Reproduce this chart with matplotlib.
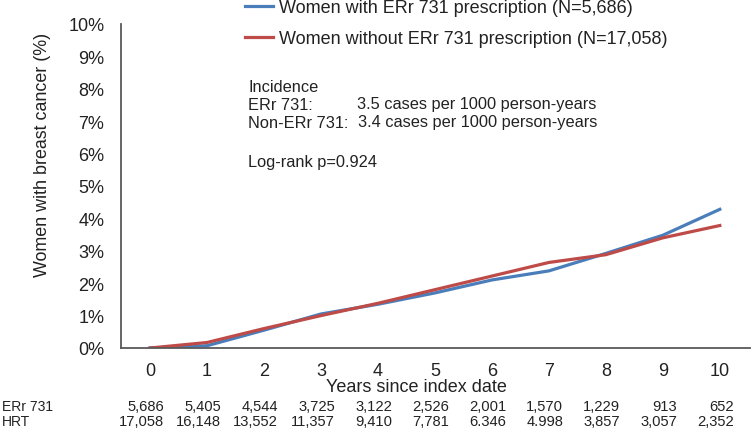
import matplotlib
matplotlib.use("Agg")
import matplotlib.pyplot as plt
from matplotlib.transforms import blended_transform_factory

plt.rcParams['font.family'] = ['Liberation Sans', 'DejaVu Sans']

years = [0, 1, 2, 3, 4, 5, 6, 7, 8, 9, 10]
with_err = [0.0, 0.07, 0.55, 1.05, 1.35, 1.70, 2.10, 2.38, 2.92, 3.48, 4.28]
without_err = [0.0, 0.17, 0.60, 1.00, 1.38, 1.80, 2.22, 2.64, 2.88, 3.40, 3.78]
at_risk_err = ["5,686", "5,405", "4,544", "3,725", "3,122", "2,526", "2,001", "1,570", "1,229", "913", "652"]
at_risk_hrt = ["17,058", "16,148", "13,552", "11,357", "9,410", "7,781", "6.346", "4.998", "3,857", "3,057", "2,352"]
yticks = [0, 1, 2, 3, 4, 5, 6, 7, 8, 9, 10]

W, H = 751, 431
fig = plt.figure(figsize=(W / 100, H / 100), dpi=100)
ax = fig.add_axes([121 / W, 1 - 349 / H, (750 - 121) / W, (349 - 25) / H])

blue = '#4A7EBB'
red = '#BE4B48'
l1, = ax.plot(years, with_err, color=blue, lw=2.3, label='Women with ERr 731 prescription (N=5,686)')
l2, = ax.plot(years, without_err, color=red, lw=2.3, label='Women without ERr 731 prescription (N=17,058)')

ax.set_xlim(-0.51, 10.53)
ax.set_ylim(0, 10)
ax.set_yticks(yticks)
ax.set_yticklabels([f"{v}%" for v in yticks])
ax.set_xticks(years)
ax.tick_params(length=0, labelsize=13, colors='#222222')
ax.tick_params(axis='x', pad=10)
ax.tick_params(axis='y', pad=12)
for s in ['top', 'right']:
    ax.spines[s].set_visible(False)
for s in ['left', 'bottom']:
    ax.spines[s].set_color('#595959')
    ax.spines[s].set_linewidth(1.3)

fig.text(43 / W, 1 - 155 / H, 'Women with breast cancer (%)', rotation=90,
         ha='center', va='center', fontsize=12.9, color='#222222')
fig.text(416 / W, 1 - 388 / H, 'Years since index date', ha='center', va='center',
         fontsize=13, color='#222222')

leg = fig.legend(handles=[l1, l2], loc='upper left', bbox_to_anchor=(238 / W, 1.0 + 7 / H),
                 frameon=False, fontsize=13, handlelength=1.55, handletextpad=0.3,
                 labelspacing=0.78, borderaxespad=0)
for t in leg.get_texts():
    t.set_color('#222222')

fs = 11.8
fig.text(248 / W, 1 - 87 / H, 'Incidence', fontsize=fs, va='center', color='#222222')
fig.text(248 / W, 1 - 105 / H, 'ERr 731:', fontsize=fs, va='center', color='#222222')
fig.text(357 / W, 1 - 105 / H, '3.5 cases per 1000 person-years', fontsize=fs, va='center', color='#222222')
fig.text(248 / W, 1 - 123 / H, 'Non-ERr 731:', fontsize=fs, va='center', color='#222222')
fig.text(358 / W, 1 - 123 / H, '3.4 cases per 1000 person-years', fontsize=fs, va='center', color='#222222')
fig.text(248 / W, 1 - 163 / H, 'Log-rank p=0.924', fontsize=fs, va='center', color='#222222')

tr = blended_transform_factory(ax.transData, fig.transFigure)
fig.text(2 / W, 1 - 407 / H, 'ERr 731', fontsize=10, va='center', color='#222222')
fig.text(2 / W, 1 - 422 / H, 'HRT', fontsize=10, va='center', color='#222222')
for x, a, b in zip(years, at_risk_err, at_risk_hrt):
    ax.text(x + 0.25, 1 - 407 / H, a, transform=tr, fontsize=10.6, ha='right', va='center', color='#222222')
    ax.text(x + 0.25, 1 - 422 / H, b, transform=tr, fontsize=10.6, ha='right', va='center', color='#222222')

fig.savefig('out.png', dpi=100)
